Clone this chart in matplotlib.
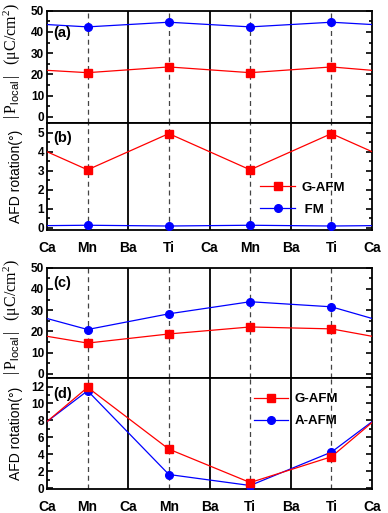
import matplotlib
matplotlib.use('Agg')
import matplotlib.pyplot as plt
from matplotlib.ticker import MultipleLocator

plt.rcParams['font.family'] = 'Liberation Sans'
plt.rcParams['mathtext.fontset'] = 'custom'
plt.rcParams['mathtext.rm'] = 'Liberation Serif'
plt.rcParams['mathtext.sf'] = 'Liberation Sans'

# site labels along the chain
top_sites = ['Ca', 'Mn', 'Ba', 'Ti', 'Ca', 'Mn', 'Ba', 'Ti', 'Ca']
bot_sites = ['Ca', 'Mn', 'Ca', 'Mn', 'Ba', 'Ti', 'Ba', 'Ti', 'Ca']

# line points (ends at Ca, markers at the B sites)
line_x = [0, 1, 3, 5, 7, 8]
marker_idx = [1, 2, 3, 4]

# (a) |P_local|
pa_gafm = [21.9, 20.8, 23.5, 20.8, 23.5, 21.9]
pa_fm = [43.5, 42.4, 44.6, 42.4, 44.6, 43.5]
# (b) AFD rotation
rb_gafm = [4.0, 3.05, 4.95, 3.05, 4.95, 4.0]
rb_fm = [0.12, 0.14, 0.10, 0.14, 0.10, 0.12]
# (c) |P_local|
pc_gafm = [17.7, 14.5, 18.8, 22.1, 21.2, 17.7]
pc_aafm = [26.1, 20.9, 28.3, 34.0, 31.6, 26.1]
# (d) AFD rotation
rd_gafm = [7.85, 11.9, 4.6, 0.65, 3.7, 7.75]
rd_aafm = [7.85, 11.5, 1.6, 0.3, 4.25, 7.85]

RED = '#ff0000'
BLUE = '#0000ff'

fig = plt.figure(figsize=(3.88, 5.13), dpi=100)
left, width = 0.121, 0.838
ax_a = fig.add_axes([left, 0.760, width, 0.219])
ax_b = fig.add_axes([left, 0.552, width, 0.208])
ax_c = fig.add_axes([left, 0.263, width, 0.215])
ax_d = fig.add_axes([left, 0.047, width, 0.216])

p_label = r'$|\,\mathrm{P}_{\mathsf{local}}\,|\ \ (\mathrm{\mu C/cm^2})$'
rot_label = 'AFD rotation(°)'


def style(ax, ylim, major, minor, sites, tag, tag_y):
    ax.set_xlim(0, 8)
    ax.set_ylim(*ylim)
    for x in [2, 4, 6]:
        ax.axvline(x, color='black', lw=1.3, zorder=1)
    for x in [1, 3, 5, 7]:
        ax.axvline(x, color='#444444', lw=0.9, ls=(0, (4, 3)), zorder=1)
    ax.yaxis.set_major_locator(MultipleLocator(major))
    ax.yaxis.set_minor_locator(MultipleLocator(minor))
    ax.tick_params(axis='y', which='both', direction='in', right=True,
                   width=1.2, labelsize=8.5, pad=2)
    ax.tick_params(axis='y', which='major', length=4)
    ax.tick_params(axis='y', which='minor', length=2)
    ax.set_xticks(range(9))
    if sites is None:
        ax.set_xticklabels([])
    else:
        ax.set_xticklabels(sites, fontsize=10, fontweight='bold')
    ax.tick_params(axis='x', length=0, pad=8)
    for lab in ax.get_yticklabels():
        lab.set_fontweight('bold')
    for s in ax.spines.values():
        s.set_linewidth(1.3)
    ax.text(0.02, tag_y, tag, transform=ax.transAxes, fontsize=10.5,
            fontweight='bold', va='center', ha='left')


def series(ax, y, color, marker):
    ax.plot(line_x, y, color=color, lw=0.9, zorder=3)
    xm = [line_x[i] for i in marker_idx]
    ym = [y[i] for i in marker_idx]
    ax.plot(xm, ym, ls='none', marker=marker, color=color, ms=5.5, zorder=4)


def legend(ax, entries, anchor):
    for color, marker, label in entries:
        ax.plot([], [], color=color, lw=0.9, marker=marker, ms=5.5, label=label)
    ax.legend(loc='center left', bbox_to_anchor=anchor, frameon=False,
              handlelength=2.6, handletextpad=0.5, labelspacing=0.75,
              prop={'weight': 'bold', 'size': 9.5})


# (a)
series(ax_a, pa_gafm, RED, 's')
series(ax_a, pa_fm, BLUE, 'o')
style(ax_a, (-3, 50), 10, 5, None, '(a)', 0.80)
ax_a.set_ylabel(p_label, fontsize=11.5)
ax_a.yaxis.set_label_coords(-0.075, 0.55)

# (b)
series(ax_b, rb_gafm, RED, 's')
series(ax_b, rb_fm, BLUE, 'o')
style(ax_b, (-0.1, 5.5), 1, 0.5, top_sites, '(b)', 0.86)
ax_b.set_ylabel(rot_label, fontsize=10)
ax_b.yaxis.set_label_coords(-0.075, 0.5)
legend(ax_b, [(RED, 's', 'G-AFM'), (BLUE, 'o', ' FM')], (0.62, 0.29))

# (c)
series(ax_c, pc_gafm, RED, 's')
series(ax_c, pc_aafm, BLUE, 'o')
style(ax_c, (-2, 50), 10, 5, None, '(c)', 0.86)
ax_c.set_ylabel(p_label, fontsize=11.5)
ax_c.yaxis.set_label_coords(-0.075, 0.55)

# (d)
series(ax_d, rd_aafm, BLUE, 'o')
series(ax_d, rd_gafm, RED, 's')
style(ax_d, (-0.1, 13), 2, 1, bot_sites, '(d)', 0.86)
ax_d.set_ylabel(rot_label, fontsize=10)
ax_d.yaxis.set_label_coords(-0.075, 0.5)
legend(ax_d, [(RED, 's', 'G-AFM'), (BLUE, 'o', 'A-AFM')], (0.6, 0.71))

fig.savefig('out.png', dpi=100)
